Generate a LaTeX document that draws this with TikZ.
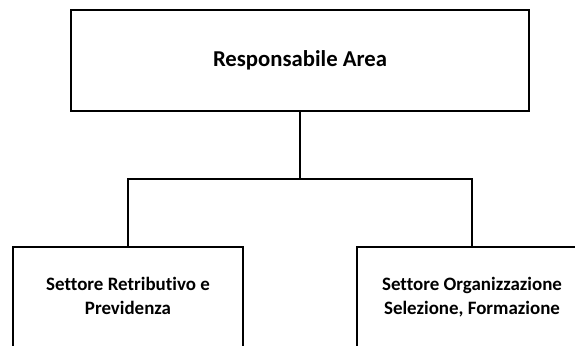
\documentclass[tikz,border=0pt]{standalone}
\usepackage{fontspec}
\setmainfont[Ligatures=NoCommon]{Carlito}
\begin{document}
\begin{tikzpicture}[x=1bp,y=-1bp,
  box/.style={draw=black,line width=2.2bp,rectangle,inner sep=0pt,align=center,font=\bfseries},
  conn/.style={draw=black,line width=2.2bp}]
\useasboundingbox (0,0) rectangle (575,345);
\clip (0,0) rectangle (575,345);
\node[box,minimum width=458bp,minimum height=101bp,font=\bfseries\fontsize{22.8}{26}\selectfont] (top) at (300,60.5) {Responsabile Area};
\node[box,minimum width=230bp,minimum height=101bp,font=\bfseries\fontsize{19}{24.5}\selectfont] (left) at (128,297.5) {\strut Settore Retributivo e\\\strut Previdenza};
\node[box,minimum width=230bp,minimum height=101bp,font=\bfseries\fontsize{19}{24.5}\selectfont] (right) at (472,297.5) {\strut Settore Organizzazione\\\strut Selezione, Formazione};
\coordinate (branch) at (300,179);
\draw[conn] (top.south) -- (branch);
\draw[conn] (branch) -| (left.north);
\draw[conn] (branch) -| (right.north);
\end{tikzpicture}
\end{document}
